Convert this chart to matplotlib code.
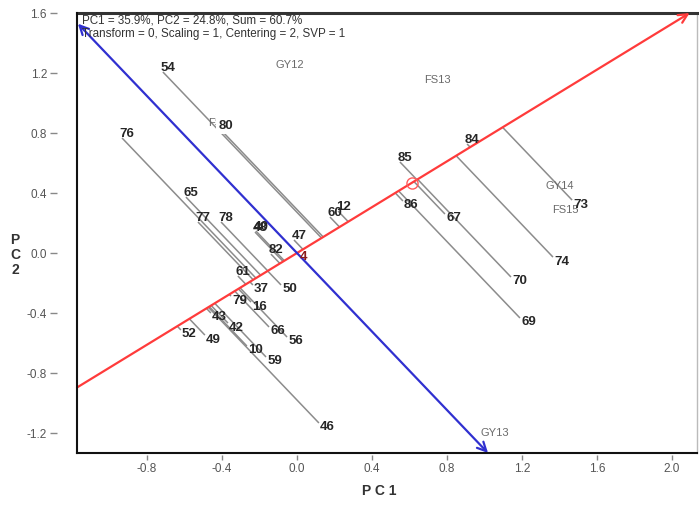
import numpy as np
import matplotlib
matplotlib.use("Agg")
import matplotlib.pyplot as plt

plt.rcParams['font.family'] = ['Liberation Sans', 'DejaVu Sans']

# ---- data ----
genotypes = ["54", "80", "76", "65", "77", "78", "48", "40", "47", "60", "12",
             "82", "4", "85", "84", "61", "86", "67", "70", "69", "74", "73",
             "79", "37", "50", "16", "66", "56", "43", "42", "52", "49", "10",
             "59", "46"]
pc1 = [-0.715, -0.405, -0.933, -0.592, -0.528, -0.405, -0.224, -0.219, -0.016,
       0.176, 0.219, -0.139, 0.011, 0.549, 0.907, -0.315, 0.565, 0.789, 1.141,
       1.189, 1.365, 1.467, -0.352, -0.235, -0.085, -0.245, -0.149, -0.053,
       -0.459, -0.368, -0.619, -0.491, -0.267, -0.165, 0.117]
pc2 = [1.207, 0.820, 0.767, 0.373, 0.207, 0.207, 0.140, 0.147, 0.087, 0.240,
       0.280, -0.007, 0.000, 0.607, 0.727, -0.153, 0.347, 0.260, -0.160,
       -0.433, -0.027, 0.353, -0.287, -0.213, -0.213, -0.327, -0.493, -0.560,
       -0.400, -0.467, -0.513, -0.547, -0.620, -0.693, -1.133]

environments = ["GY12", "FS13", "GY14", "FS15", "GY13", "FS12"]
env_pc1 = [-0.037, 0.747, 1.403, 1.429, 1.056, -0.403]
env_pc2 = [1.253, 1.153, 0.447, 0.287, -1.200, 0.867]

avg_env = (0.615, 0.470)   # average environment marker on the AEC axis

info_lines = ["PC1 = 35.9%, PC2 = 24.8%, Sum = 60.7%",
              "Transform = 0, Scaling = 1, Centering = 2, SVP = 1"]

xticks = [-0.8, -0.4, 0.0, 0.4, 0.8, 1.2, 1.6, 2.0]
yticks = [-1.2, -0.8, -0.4, 0.0, 0.4, 0.8, 1.2, 1.6]
xlim = (-1.173, 2.133)
ylim = (-1.333, 1.6)

PX = 0.72  # points per pixel at dpi 100

# ---- figure ----
fig = plt.figure(figsize=(6.99, 5.11), dpi=100)
ax = fig.add_axes([77/699, (511-453)/511, 620/699, 440/511])
ax.set_xlim(*xlim)
ax.set_ylim(*ylim)

u = np.array(avg_env) / np.hypot(*avg_env)
slope = u[1] / u[0]

# AEC abscissa (red) with arrow at top-right
x_end = ylim[1] / slope
y_start = slope * xlim[0]
ax.annotate("", xy=(x_end, ylim[1]), xytext=(xlim[0], y_start),
            arrowprops=dict(arrowstyle='->', color='#ff3b3b', lw=1.6,
                            mutation_scale=16, shrinkA=0, shrinkB=0),
            zorder=3)
# AEC ordinate (blue) double-headed
pslope = -1.0 / slope
x_top = -1.168
x_bot = ylim[0] / pslope
ax.annotate("", xy=(x_bot, ylim[0]), xytext=(x_top, pslope * x_top),
            arrowprops=dict(arrowstyle='<->', color='#3030d0', lw=1.6,
                            mutation_scale=16, shrinkA=0, shrinkB=0),
            zorder=3)

# average environment circle
ax.plot([avg_env[0]], [avg_env[1]], marker='o', ms=8, mfc='none',
        mec='#ff5a5a', mew=1.0, zorder=4)

# projections of genotypes onto AEC abscissa
for name, x, y in zip(genotypes, pc1, pc2):
    d = x * u[0] + y * u[1]
    px, py = d * u[0], d * u[1]
    ax.plot([x, px], [y, py], color='#8c8c8c', lw=1.1, zorder=2,
            solid_capstyle='butt')

# environment labels
for name, x, y in zip(environments, env_pc1, env_pc2):
    ax.text(x, y, name, ha='center', va='center', fontsize=8,
            color='#6a6a6a', zorder=4)

# genotype labels
for name, x, y in zip(genotypes, pc1, pc2):
    cross = u[0] * y - u[1] * x
    color = '#8b1a1a' if name == "4" else '#262626'
    bbox = None
    if name == "80":
        bbox = dict(boxstyle='square,pad=0.2', fc='white', ec='none')
    if cross >= 0:
        ax.annotate(name, xy=(x, y), xytext=(3.6, 1.0),
                    textcoords='offset points', ha='center', va='baseline',
                    fontsize=9.5, fontweight='bold', color=color, zorder=5,
                    bbox=bbox)
    else:
        ax.annotate(name, xy=(x, y), xytext=(0.8, -3.2),
                    textcoords='offset points', ha='left', va='center',
                    fontsize=9.5, fontweight='bold', color=color, zorder=5)

# info text
ax.text(0.008, 0.997, info_lines[0] + "\n" + info_lines[1],
        transform=ax.transAxes, ha='left', va='top', fontsize=8.4,
        color='#333333', linespacing=1.2, zorder=6)

# axes styling: ticks detached from the axis lines
ax.set_xticks(xticks)
ax.set_yticks(yticks)
ax.set_xticklabels([f"{t:.1f}" for t in xticks])
ax.set_yticklabels([f"{t:.1f}" for t in yticks])
ax.spines['left'].set_position(('outward', 20 * PX))
ax.spines['bottom'].set_position(('outward', 2 * PX))
ax.spines['left'].set_color('none')
ax.spines['bottom'].set_color('none')
ax.tick_params(axis='y', direction='out', length=7 * PX, width=1,
               color='#888888', labelsize=8.5, labelcolor='#555555',
               pad=3 * PX)
ax.tick_params(axis='x', direction='out', length=5 * PX, width=1,
               color='#888888', labelsize=8.5, labelcolor='#555555',
               pad=3 * PX)
ax.plot([0, 0], [0, 1], transform=ax.transAxes, color='#111111', lw=1.5,
        clip_on=False, zorder=6)
ax.plot([0, 1], [0, 0], transform=ax.transAxes, color='#111111', lw=1.5,
        clip_on=False, zorder=6)
ax.spines['top'].set_linewidth(2.2)
ax.spines['top'].set_color('#333333')
ax.spines['right'].set_linewidth(1.0)
ax.spines['right'].set_color('#bbbbbb')

fig.text(379/699, 1 - 491/511, "P C 1", ha='center', va='center',
         fontsize=10, fontweight='bold', color='#333333')
fig.text(15/699, 1 - 255/511, "P\nC\n2", ha='center', va='center',
         fontsize=10, fontweight='bold', color='#333333', linespacing=1.05)

fig.savefig("out.png", dpi=100)
